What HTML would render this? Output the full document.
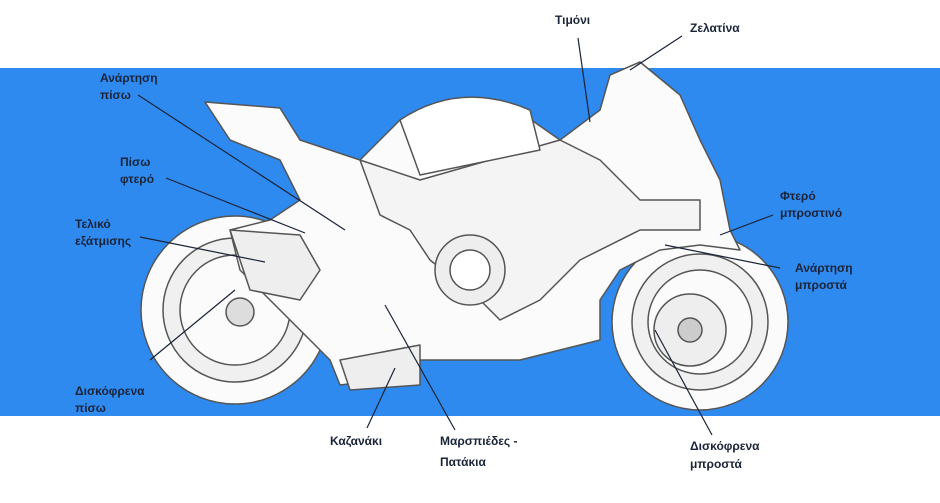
<!DOCTYPE html>
<html><head><meta charset="utf-8"><style>
body{margin:0;width:940px;height:498px;background:#fff;overflow:hidden;font-family:"Liberation Sans","DejaVu Sans",sans-serif}
</style></head><body>
<svg width="940" height="498" viewBox="0 0 940 498" xmlns="http://www.w3.org/2000/svg">
<rect x="0" y="68" width="940" height="348" fill="#2f8af0"/>
<g stroke="#555" stroke-width="1.5" fill="#fbfbfb" stroke-linejoin="round">
<!-- rear wheel -->
<circle cx="235" cy="310" r="94"/>
<circle cx="235" cy="310" r="72" fill="#f0f0f0"/>
<circle cx="235" cy="310" r="55" fill="#fbfbfb"/>
<circle cx="240" cy="312" r="14" fill="#ddd"/>
<!-- front wheel -->
<circle cx="700" cy="322" r="88"/>
<circle cx="700" cy="322" r="68" fill="#f0f0f0"/>
<circle cx="700" cy="322" r="52" fill="#fbfbfb"/>
<circle cx="690" cy="330" r="36" fill="#eee"/>
<circle cx="690" cy="330" r="12" fill="#ccc"/>
<!-- body -->
<path d="M205 102 L280 108 L300 140 L360 160 L400 120 L470 98 L520 112 L560 140 L600 110 L610 75 L640 62 L680 95 L700 140 L720 180 L730 230 L740 250 L700 245 L660 250 L620 270 L600 300 L600 340 L560 350 L520 360 L460 360 L410 360 L380 380 L340 385 L330 360 L300 330 L270 300 L240 270 L230 230 L270 220 L300 200 L280 160 L230 140 Z"/>
<path d="M360 160 L420 180 L560 140 L600 160 L640 200 L700 200 L700 230 L640 230 L580 260 L540 300 L500 320 L480 300 L430 260 L410 230 L380 215 Z" fill="#f4f4f4"/>
<path d="M230 230 L300 235 L320 270 L300 300 L250 290 Z" fill="#eee"/>
<circle cx="470" cy="270" r="35" fill="#eee"/>
<circle cx="470" cy="270" r="20" fill="#fff"/>
<path d="M400 120 Q460 80 530 110 L540 150 L420 175 Z" fill="#fff"/>
<path d="M340 360 L420 345 L420 385 L350 390 Z" fill="#eee"/>
</g>
<g stroke="#1a2438" stroke-width="1.2" fill="none">
<line x1="138" y1="95" x2="345" y2="230"/>
<line x1="166" y1="178" x2="305" y2="233"/>
<line x1="140" y1="237" x2="265" y2="262"/>
<line x1="150" y1="360" x2="235" y2="290"/>
<line x1="367" y1="428" x2="395" y2="368"/>
<line x1="455" y1="430" x2="385" y2="305"/>
<line x1="712" y1="435" x2="655" y2="330"/>
<line x1="578" y1="38" x2="590" y2="122"/>
<line x1="682" y1="36" x2="630" y2="70"/>
<line x1="773" y1="215" x2="720" y2="235"/>
<line x1="780" y1="268" x2="665" y2="245"/>
</g>
<g font-size="12" font-weight="bold" fill="#1a2438">
<text x="100" y="82">Ανάρτηση</text><text x="100" y="99">πίσω</text>
<text x="120" y="166">Πίσω</text><text x="120" y="183">φτερό</text>
<text x="75" y="228">Τελικό</text><text x="75" y="245">εξάτμισης</text>
<text x="75" y="395">Δισκόφρενα</text><text x="75" y="412">πίσω</text>
<text x="330" y="445">Καζανάκι</text>
<text x="440" y="445">Μαρσπιέδες -</text><text x="440" y="466">Πατάκια</text>
<text x="690" y="450">Δισκόφρενα</text><text x="690" y="468">μπροστά</text>
<text x="555" y="24">Τιμόνι</text>
<text x="690" y="32">Ζελατίνα</text>
<text x="780" y="200">Φτερό</text><text x="780" y="217">μπροστινό</text>
<text x="795" y="272">Ανάρτηση</text><text x="795" y="289">μπροστά</text>
</g>
</svg>
</body></html>
